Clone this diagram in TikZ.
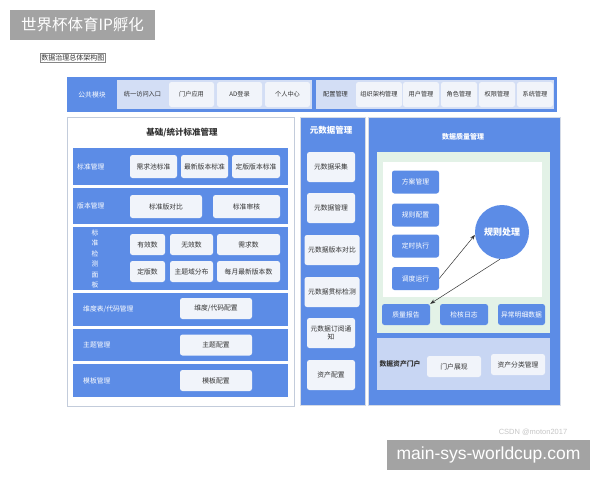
\documentclass[tikz,border=0pt]{standalone}
\usepackage{fontspec}
\setmainfont{Noto Sans CJK SC}
\newfontfamily\latinfont{Liberation Sans}
\usetikzlibrary{arrows.meta}
\definecolor{Blue}{HTML}{5C8CE6}
\definecolor{Strip}{HTML}{D3DEF5}
\definecolor{Card}{HTML}{F1F4FA}
\definecolor{Mint}{HTML}{E3F2E7}
\definecolor{Haze}{HTML}{C8D6F3}
\definecolor{Ink}{HTML}{333333}
\definecolor{Frame}{HTML}{C3CCDB}
\definecolor{Stamp}{HTML}{A3A3A3}
\definecolor{Mark}{HTML}{C6C6C6}
\tikzset{
  box size/.style 2 args={minimum width=#1pt, minimum height=#2pt},
  region/.style={inner sep=0pt, draw=none},
  bluebar/.style={region, fill=Blue},
  card/.style={
    rounded corners=2.5pt, fill=Card, text=Ink, inner sep=0pt,
    align=center, font=\fontsize{6.8}{8.5}\selectfont
  },
  barcard/.style={card, font=\fontsize{6.2}{7}\selectfont},
  bluecard/.style={card, fill=Blue, text=white},
  rowlabel/.style={anchor=west, text=white, inner sep=0pt, font=\fontsize{6.8}{7.5}\selectfont},
  heading/.style={inner sep=0pt, font=\bfseries\fontsize{8.5}{9}\selectfont},
  link/.style={-{Stealth[length=1.8mm,width=1.3mm]}, draw=Ink, line width=0.5pt}
}

\begin{document}
\begin{tikzpicture}[x=1pt,y=-1pt]
    \useasboundingbox[fill=white] (0,0) rectangle (600,480);
    % headline and caption
    \node[region, fill=Stamp, box size={145}{30}, text=white,
      font=\fontsize{15.5}{17}\selectfont] (stamp) at (82.5,25) {世界杯体育IP孵化};
    \node[draw=Ink!60, line width=0.3pt, inner sep=1pt, text=Ink,
      font=\fontsize{7}{7.5}\selectfont] (caption) at (73,57.5) {数据治理总体架构图};

    % public module bar
    \node[bluebar, box size={490}{35}] (topbar) at (312,94.5) {};
    \node[region, fill=Strip, box size={195}{29}] (pubstrip) at (214.5,94.5) {};
    \node[region, fill=Strip, box size={238}{29}] (cfgstrip) at (435,94.5) {};
    \node[text=white, font=\fontsize{6.8}{7}\selectfont] (publbl) at (92,94.5) {公共模块};
    \node[text=Ink, font=\fontsize{6.2}{7}\selectfont] (unify) at (142.5,94.5) {统一访问入口};
    \node[barcard, box size={45}{25}] (portalapp) at (191.5,94.5) {门户应用};
    \node[barcard, box size={45}{25}] (adlogin) at (239.5,94.5) {AD登录};
    \node[barcard, box size={45}{25}] (mycenter) at (287.5,94.5) {个人中心};
    \node[text=Ink, font=\fontsize{6.2}{7}\selectfont] (cfglbl) at (335.5,94.5) {配置管理};
    \node[barcard, box size={46}{25}] (orgmgr) at (379,94.5) {组织架构管理};
    \node[barcard, box size={36}{25}] (usermgr) at (421,94.5) {用户管理};
    \node[barcard, box size={36}{25}] (rolemgr) at (459,94.5) {角色管理};
    \node[barcard, box size={36}{25}] (permmgr) at (497,94.5) {权限管理};
    \node[barcard, box size={36}{25}] (sysmgr) at (535,94.5) {系统管理};

    % basic / statistics standards
    \node[region, fill=white, draw=Frame, line width=0.8pt, box size={227}{289}] (basepanel) at (180.5,261.5) {};
    \node[heading, text=Ink] (basetitle) at (182,133) {基础/统计标准管理};
    \node[bluebar, box size={215}{37}] (stdrow) at (180.5,166.5) {};
    \node[bluebar, box size={215}{36}] (verrow) at (180.5,206) {};
    \node[bluebar, box size={215}{63}] (checkrow) at (180.5,258.5) {};
    \node[bluebar, box size={215}{33}] (dimrow) at (180.5,309.5) {};
    \node[bluebar, box size={215}{32}] (topicrow) at (180.5,345) {};
    \node[bluebar, box size={215}{33}] (tplrow) at (180.5,380.5) {};
    \node[rowlabel] (stdlbl) at (77,166.5) {标准管理};
    \node[rowlabel] (verlbl) at (77,206) {版本管理};
    \node[rowlabel, anchor=center, align=center, font=\fontsize{6.8}{10.5}\selectfont] (checklbl) at (95,259) {标\\准\\检\\测\\面\\板};
    \node[rowlabel] (dimlbl) at (83,309.5) {维度表/代码管理};
    \node[rowlabel] (topiclbl) at (83,345) {主题管理};
    \node[rowlabel] (tpllbl) at (83,380.5) {模板管理};
    \node[card, box size={47}{23}] (poolstd) at (153.5,166.5) {需求池标准};
    \node[card, box size={47}{23}] (lateststd) at (204.5,166.5) {最新版本标准};
    \node[card, box size={48}{23}] (finalstd) at (256,166.5) {定版版本标准};
    \node[card, box size={72}{23}] (stddiff) at (166,206.5) {标准版对比};
    \node[card, box size={67}{23}] (stdreview) at (246.5,206.5) {标准审核};
    \node[card, box size={35}{21}] (validcnt) at (147.5,244.5) {有效数};
    \node[card, box size={43}{21}] (invalidcnt) at (191.5,244.5) {无效数};
    \node[card, box size={63}{21}] (demandcnt) at (248.5,244.5) {需求数};
    \node[card, box size={35}{21}] (finalcnt) at (147.5,271.5) {定版数};
    \node[card, box size={43}{21}] (domaincnt) at (191.5,271.5) {主题域分布};
    \node[card, box size={63}{21}] (monthcnt) at (248.5,271.5) {每月最新版本数};
    \node[card, box size={72}{21}] (dimconf) at (216,308.5) {维度/代码配置};
    \node[card, box size={72}{21}] (topicconf) at (216,345) {主题配置};
    \node[card, box size={72}{21}] (tplconf) at (216,380.5) {模板配置};

    % metadata column
    \node[bluebar, draw=Frame!70, line width=0.6pt, box size={65}{288}] (metacol) at (332.5,261) {};
    \node[heading, text=white] (metatitle) at (331,130) {元数据管理};
    \node[card, box size={48}{30}] (metacollect) at (331,167) {元数据采集};
    \node[card, box size={48}{30}] (metamanage) at (331,208) {元数据管理};
    \node[card, box size={55}{30}] (metadiff) at (332,250) {元数据版本对比};
    \node[card, box size={55}{30}] (metacheck) at (332,292) {元数据贯标检测};
    \node[card, box size={48}{30}] (metanotify) at (331,333) {元数据订阅通\\知};
    \node[card, box size={48}{30}] (assetconf) at (331,375) {资产配置};

    % data quality
    \node[bluebar, draw=Frame!70, line width=0.6pt, box size={192}{288}] (qualitypanel) at (464,261) {};
    \node[heading, text=white, font=\bfseries\fontsize{7}{7.5}\selectfont] (qualitytitle) at (463,137) {数据质量管理};
    \node[region, fill=Mint, box size={173}{181}] (qualityzone) at (463.5,242.5) {};
    \node[region, fill=white, box size={159}{135}] (rulezone) at (462.5,229.5) {};
    \node[bluecard, box size={47}{23}] (plan) at (415.5,182) {方案管理};
    \node[bluecard, box size={47}{23}] (ruleconf) at (415.5,215) {规则配置};
    \node[bluecard, box size={47}{23}] (timer) at (415.5,246) {定时执行};
    \node[bluecard, box size={47}{23}] (dispatch) at (415.5,278.5) {调度运行};
    \node[circle, fill=Blue, minimum size=54pt, inner sep=0pt, text=white,
      font=\bfseries\fontsize{9}{10}\selectfont] (ruleproc) at (502,232) {规则处理};
    \node[bluecard, box size={48}{21}] (report) at (406,314.5) {质量报告};
    \node[bluecard, box size={48}{21}] (checklog) at (464,314.5) {检核日志};
    \node[bluecard, box size={47}{21}] (anomaly) at (521.5,314.5) {异常明细数据};
    \draw[link] (dispatch.east) -- (ruleproc.186);
    \draw[link] (ruleproc.266) -- (report.north east);

    % asset portal
    \node[region, fill=Haze, box size={173}{52}] (portalzone) at (463.5,364) {};
    \node[heading, text=Ink, font=\bfseries\fontsize{6.8}{7}\selectfont] (portaltitle) at (400,364) {数据资产门户};
    \node[card, box size={54}{21}] (portalshow) at (454,366.5) {门户展现};
    \node[card, box size={54}{21}] (assetclass) at (518,364.5) {资产分类管理};

    % marks
    \node[text=Mark, font=\latinfont\fontsize{7.5}{8}\selectfont] (watermark) at (533,432) {CSDN @moton2017};
    \node[region, fill=Stamp, box size={203}{30}, text=white,
      font=\latinfont\fontsize{17.5}{19}\selectfont] (domain) at (488.5,455) {main-sys-worldcup.com};
  \end{tikzpicture}
\end{document}
